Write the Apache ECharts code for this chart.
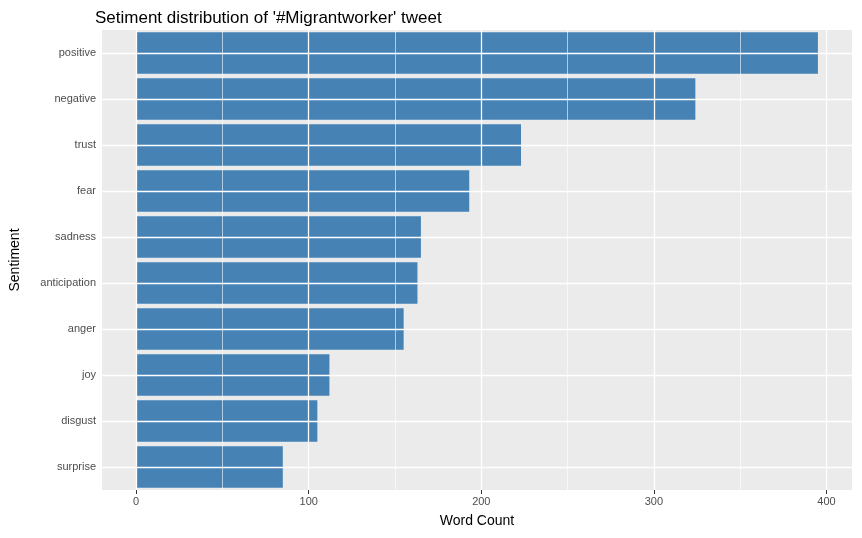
<!DOCTYPE html>
<html style="height: 100%">
<head>
    <meta charset="UTF-8">
    <script src="https://cdn.jsdelivr.net/npm/echarts@6/dist/echarts.min.js"></script>
    <style>body {margin:0; padding:0; overflow:hidden; height:100%}</style>
</head>
<body>
<div id="container" style="width:862px;height:538px"></div>
<script>
var sentiments = ['positive','negative','trust','fear','sadness','anticipation','anger','joy','disgust','surprise'];
var wordCounts = [395, 324, 223, 193, 165, 163, 155, 112, 105, 85];
var majorTicks = [0, 100, 200, 300, 400];
var minorTicks = [50, 150, 250, 350];

var chart = echarts.init(document.getElementById('container'));
var gridLines = [];
majorTicks.forEach(function (v) { gridLines.push({xAxis: v, lineStyle: {width: 1.3}}); });
minorTicks.forEach(function (v) { gridLines.push({xAxis: v, lineStyle: {width: 0.6}}); });
sentiments.forEach(function (s) { gridLines.push({yAxis: s, lineStyle: {width: 1.3}}); });

var option = {
    title: {
        text: "Setiment distribution of '#Migrantworker' tweet",
        left: 90, top: 5,
        textStyle: {fontFamily: 'Liberation Sans', fontWeight: 'normal', fontSize: 17, color: '#000'}
    },
    grid: {left: 95, right: 10, top: 30, bottom: 48, show: true, backgroundColor: '#EBEBEB', borderWidth: 0},
    xAxis: {
        type: 'value', min: -19.75, max: 414.75,
        name: 'Word Count', nameLocation: 'middle', nameGap: 24,
        nameTextStyle: {fontFamily: 'Liberation Sans', fontSize: 14, color: '#000'},
        axisLine: {show: false},
        axisTick: {show: true, length: 4, customValues: majorTicks, lineStyle: {color: '#333'}},
        axisLabel: {customValues: majorTicks, color: '#4D4D4D', fontSize: 11, fontFamily: 'Liberation Sans', margin: 6},
        splitLine: {show: false}
    },
    yAxis: {
        type: 'category', data: sentiments, inverse: true,
        name: 'Sentiment', nameLocation: 'middle', nameGap: 80, nameRotate: 90,
        nameTextStyle: {fontFamily: 'Liberation Sans', fontSize: 14, color: '#000'},
        axisLine: {show: false},
        axisTick: {show: true, alignWithLabel: true, length: 4, lineStyle: {color: '#333'}},
        axisLabel: {color: '#4D4D4D', fontSize: 11, fontFamily: 'Liberation Sans', margin: 6},
        splitLine: {show: false}
    },
    series: [{
        type: 'bar', data: [], z: 1, silent: true,
        markLine: {silent: true, symbol: 'none', label: {show: false},
            lineStyle: {color: '#FFFFFF', type: 'solid'}, data: gridLines, animation: false}
    }, {
        type: 'bar', data: wordCounts, z: 3, barCategoryGap: '10%', barGap: '-100%',
        itemStyle: {color: '#4682B4'}
    }],
    animation: false
};
chart.setOption(option);
</script>
</body>
</html>
